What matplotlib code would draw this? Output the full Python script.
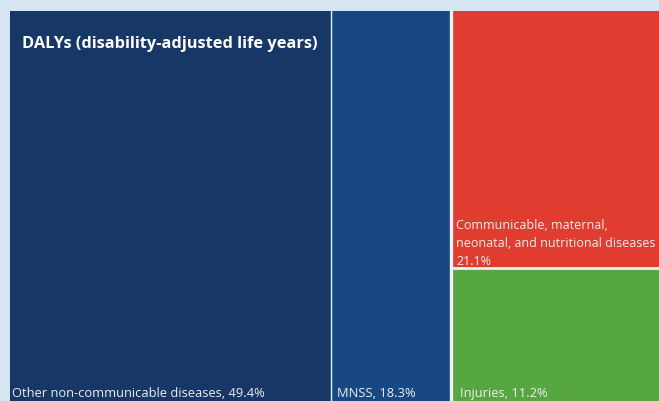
import matplotlib.pyplot as plt
from matplotlib.patches import Rectangle

# share of DALYs by cause group
labels = ["Other non-communicable diseases", "MNSS",
          "Communicable, maternal,\nneonatal, and nutritional diseases\n", "Injuries"]
values = [49.4, 18.3, 21.1, 11.2]
colors = ["#173766", "#184884", "#e03c30", "#56a641"]

bg = "#d5e5f2"
W, H = 659, 401
x0, y0 = 10, 11
tw, th = 650, 393  # treemap spills a bit past the crop

fig = plt.figure(figsize=(W / 100, H / 100), dpi=100, facecolor=bg)
ax = fig.add_axes([0, 0, 1, 1])
ax.set_xlim(0, W)
ax.set_ylim(H, 0)
ax.axis("off")

total = sum(values)
w_ncd = tw * values[0] / total
w_mnss = tw * values[1] / total
w_rest = tw - w_ncd - w_mnss
h_cmnn = th * values[2] / (values[2] + values[3])

rects = [
    (x0, y0, w_ncd, th),
    (x0 + w_ncd, y0, w_mnss, th),
    (x0 + w_ncd + w_mnss, y0, w_rest, h_cmnn),
    (x0 + w_ncd + w_mnss, y0 + h_cmnn, w_rest, th - h_cmnn),
]
for (x, y, w, h), c in zip(rects, colors):
    ax.add_patch(Rectangle((x, y), w, h, facecolor=c, edgecolor="none"))

# white separators between tiles
sep = "#eef2f7"
ax.plot([x0 + w_ncd] * 2, [y0, y0 + th], color=sep, lw=1.0)
ax.plot([x0 + w_ncd + w_mnss + 1] * 2, [y0, y0 + th], color=sep, lw=2.4)
ax.plot([x0 + w_ncd + w_mnss + 1, x0 + tw], [y0 + h_cmnn] * 2, color=sep, lw=2.0)

font = "Open Sans"
tc = "#eeeeee"
ax.text(22, 44, "DALYs (disability-adjusted life years)", color="white",
        fontsize=11.8, fontweight="bold", family=font, va="center", ha="left")

pads = [2, 6, 6, 10]
for (x, y, w, h), lab, v, p in zip(rects, labels, values, pads):
    if lab.endswith("\n"):
        ax.text(x + p, y + h, f"{lab}{v}%", color=tc, fontsize=9.0, family=font,
                va="bottom", ha="left", linespacing=1.5)
    else:
        ax.text(x + p, 400, f"{lab}, {v}%", color=tc, fontsize=9.3,
                family=font, va="bottom", ha="left")

fig.savefig("out.png", dpi=100, facecolor=bg)
